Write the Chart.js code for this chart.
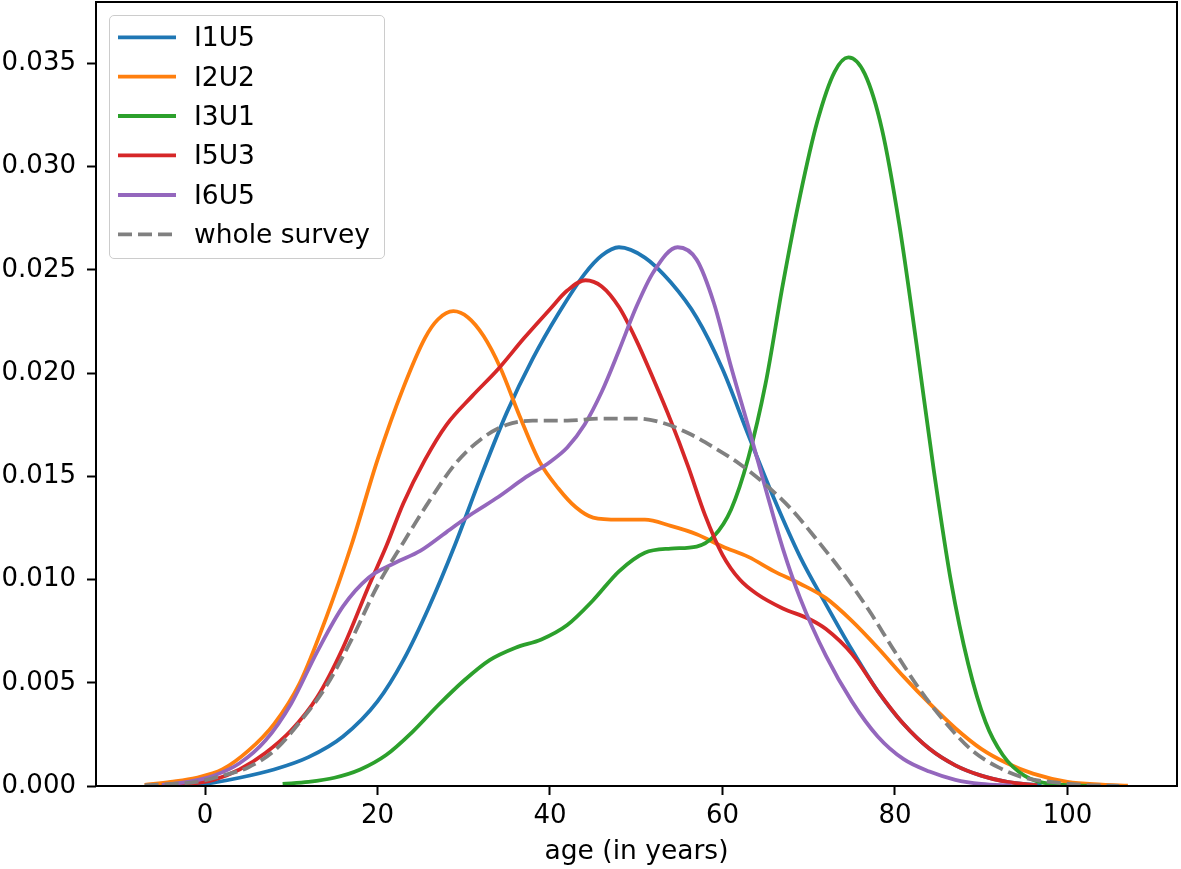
<!DOCTYPE html>
<html>
<head>
<meta charset="utf-8">
<script src="https://cdn.jsdelivr.net/npm/chart.js@4.4.0/dist/chart.umd.min.js"></script>
<style>
  html, body { margin: 0; padding: 0; background: #fff; }
  #wrap { position: relative; width: 1181px; height: 869px; }
  #legend { position: absolute; left: 0; top: 0; width: 1181px; height: 869px; pointer-events: none; font-family: "DejaVu Sans", sans-serif; }
  #legendFrame { position: absolute; left: 109px; top: 15px; width: 276px; height: 244px; box-sizing: border-box;
    border: 1px solid #cccccc; border-radius: 5px; background: rgba(255,255,255,0.8); }
  .lg-text { position: absolute; left: 194px; font-size: 26.5px; line-height: 30px; color: #000; white-space: nowrap; }
</style>
</head>
<body>
<div id="wrap">
  <canvas id="chart" width="1181" height="869"></canvas>
  <div id="legend"><div id="legendFrame"></div></div>
</div>
<script>
// ---- data ----
const seriesNames = ["I1U5", "I2U2", "I3U1", "I5U3", "I6U5", "whole survey"];

const agesI1U5 = [-2, 0, 4, 8, 12, 16, 20, 23, 26, 29, 32, 35, 38, 41, 44, 46, 48, 51, 54, 57, 60, 63, 66, 69, 72, 75, 78, 81, 84, 87, 90, 93, 97];
const densI1U5 = [0.00003, 0.0001, 0.0004, 0.0008, 0.0014, 0.0024, 0.0041, 0.0061, 0.0087, 0.0117, 0.0150, 0.0181, 0.0207, 0.0229, 0.0248, 0.0257, 0.0261, 0.0256, 0.0244, 0.0227, 0.0202, 0.0170, 0.0139, 0.0111, 0.0088, 0.0066, 0.0046, 0.0030, 0.0018, 0.0010, 0.0005, 0.0002, 0.00003];

const agesI2U2 = [-7, -4, -1, 2, 5, 8, 11, 14, 17, 20, 23, 25.5, 27, 28.8, 30.5, 32.3, 34.2, 36.5, 38.8, 41, 43, 45, 48, 51, 54, 57, 60, 63, 66, 69, 72, 75, 78, 81, 84, 87, 90, 93, 96, 100, 104, 107];
const densI2U2 = [0.00005, 0.0002, 0.0004, 0.0008, 0.0017, 0.0030, 0.0050, 0.0081, 0.0117, 0.0158, 0.0193, 0.0217, 0.0226, 0.0230, 0.0227, 0.0218, 0.0203, 0.0179, 0.0157, 0.0144, 0.0135, 0.0130, 0.0129, 0.0129, 0.0126, 0.0122, 0.0116, 0.0111, 0.0104, 0.0098, 0.0091, 0.0080, 0.0067, 0.0053, 0.0040, 0.0028, 0.0018, 0.0011, 0.0006, 0.0002, 0.00007, 0.00002];

const agesI3U1 = [9, 12, 15, 18, 21, 24, 27, 30, 33, 36, 39, 42, 45, 48, 51, 54, 57, 59, 61, 63, 65, 67, 69, 71, 73, 74.6, 76.5, 78.5, 80.5, 82.5, 84.5, 86.5, 88.5, 90.5, 92.5, 95, 98, 103];
const densI3U1 = [0.0001, 0.0002, 0.0004, 0.0008, 0.0015, 0.0026, 0.0039, 0.0051, 0.0061, 0.0067, 0.0071, 0.0078, 0.0090, 0.0104, 0.0113, 0.0115, 0.0116, 0.0121, 0.0134, 0.0159, 0.0195, 0.0243, 0.0286, 0.0322, 0.0346, 0.0353, 0.0345, 0.0318, 0.0272, 0.0214, 0.0153, 0.0099, 0.0059, 0.0031, 0.0015, 0.0005, 0.0001, 0.00001];

const agesI5U3 = [-5, -2, 1, 4, 7, 10, 13, 16, 19, 21, 23, 25.5, 28, 31, 34, 37, 40, 42, 44.1, 46, 48, 50, 52, 54, 56, 58, 60, 62, 64, 67, 70, 72, 75, 78, 81, 84, 87, 90, 93, 96.5];
const densI5U3 = [0.00005, 0.0001, 0.0003, 0.0008, 0.0016, 0.0027, 0.0043, 0.0067, 0.0097, 0.0116, 0.0137, 0.0158, 0.0175, 0.0189, 0.0202, 0.0217, 0.0231, 0.0240, 0.0245, 0.0242, 0.0232, 0.0216, 0.0197, 0.0177, 0.0155, 0.0131, 0.0112, 0.0100, 0.0093, 0.0086, 0.0081, 0.0076, 0.0064, 0.0046, 0.0030, 0.0018, 0.0010, 0.0005, 0.0002, 0.00003];

const agesI6U5 = [-5, -2, 1, 4, 7, 10, 13, 16, 19, 22, 25, 28, 31, 34, 37, 40, 42, 44, 46, 48, 50, 52, 54.8, 57, 59, 61, 63, 65, 67, 69, 72, 75, 78, 81, 84, 87, 90, 93.5];
const densI6U5 = [0.00005, 0.0002, 0.0005, 0.0011, 0.0022, 0.0040, 0.0065, 0.0087, 0.0101, 0.0108, 0.0114, 0.0123, 0.0132, 0.0140, 0.0149, 0.0157, 0.0164, 0.0175, 0.0191, 0.0211, 0.0232, 0.0249, 0.0261, 0.0255, 0.0234, 0.0203, 0.0174, 0.0144, 0.0115, 0.0091, 0.0063, 0.0041, 0.0024, 0.0013, 0.0007, 0.0003, 0.0001, 0.00002];

const agesWhole = [-7, -4, -1, 2, 5, 8, 11, 14, 17, 20, 23, 26, 29, 32, 35, 38, 42, 46, 50, 53, 56, 59, 62, 65, 68, 71, 74, 77, 80, 83, 86, 89, 92, 95, 98, 102, 106];
const densWhole = [0.00003, 0.0001, 0.0002, 0.0005, 0.0009, 0.0017, 0.0031, 0.0048, 0.0071, 0.0097, 0.0118, 0.0138, 0.0156, 0.0168, 0.0175, 0.0177, 0.0177, 0.0178, 0.0178, 0.0176, 0.0171, 0.0164, 0.0156, 0.0146, 0.0134, 0.0119, 0.0103, 0.0085, 0.0065, 0.0046, 0.0030, 0.0017, 0.0009, 0.0004, 0.0002, 0.00005, 0.00001];

const xTickStep = 20;
const yTickStep = 0.005;
const xLabel = "age (in years)";

// ---- styling ----
const colors = ["#1f77b4", "#ff7f0e", "#2ca02c", "#d62728", "#9467bd", "#808080"];
const dashes = [[], [], [], [], [], [14, 6]];
const LW = 3.8;
const FONT = "'DejaVu Sans', sans-serif";

const agesList = [agesI1U5, agesI2U2, agesI3U1, agesI5U3, agesI6U5, agesWhole];
const densList = [densI1U5, densI2U2, densI3U1, densI5U3, densI6U5, densWhole];

const datasets = seriesNames.map((name, i) => ({
  label: name,
  data: agesList[i].map((a, k) => ({ x: a, y: densList[i][k] })),
  borderColor: colors[i],
  backgroundColor: colors[i],
  borderWidth: LW,
  borderDash: dashes[i],
  pointRadius: 0,
  pointHoverRadius: 0,
  fill: false,
  cubicInterpolationMode: 'monotone',
  borderCapStyle: 'butt',
  order: seriesNames.length - i
}));

const framePlugin = {
  id: 'frame',
  afterDatasetsDraw(chart) {
    const a = chart.chartArea;
    const ctx = chart.ctx;
    ctx.save();
    ctx.strokeStyle = '#000';
    ctx.lineWidth = 2;
    ctx.setLineDash([]);
    ctx.strokeRect(a.left, a.top, a.right - a.left, a.bottom - a.top);
    ctx.restore();
  }
};

new Chart(document.getElementById('chart'), {
  type: 'line',
  data: { datasets },
  plugins: [framePlugin],
  options: {
    responsive: false,
    animation: false,
    devicePixelRatio: 1,
    layout: { padding: { top: 2, right: 4, left: 0, bottom: 0 } },
    plugins: { legend: { display: false }, tooltip: { enabled: false } },
    scales: {
      x: {
        type: 'linear',
        min: -12.64,
        max: 112.7,
        border: { display: false },
        grid: { drawOnChartArea: false, drawTicks: true, tickLength: 9, tickWidth: 2, tickColor: '#000' },
        ticks: {
          stepSize: xTickStep, includeBounds: false, color: '#000', padding: 6,
          font: { family: FONT, size: 26 }, maxRotation: 0,
          callback: v => String(Math.round(v))
        },
        title: { display: true, text: xLabel, color: '#000', font: { family: FONT, size: 26.5 }, padding: { top: 0, bottom: 1 } },
        afterFit: s => { s.height = 83; s.paddingLeft = 0; s.paddingRight = 0; }
      },
      y: {
        type: 'linear',
        min: 0,
        max: 0.03798,
        border: { display: false },
        grid: { drawOnChartArea: false, drawTicks: true, tickLength: 9, tickWidth: 2, tickColor: '#000' },
        ticks: {
          stepSize: yTickStep, includeBounds: false, color: '#000', padding: 11,
          font: { family: FONT, size: 26 },
          callback: v => v.toFixed(3)
        },
        afterFit: s => { s.width = 96; s.paddingTop = 0; s.paddingBottom = 0; }
      }
    }
  }
});

// ---- legend (HTML overlay) ----
const legend = document.getElementById('legend');
const baselines = [46.7, 86.1, 125.5, 164.9, 204.3, 243.7];
const lineYs = [37.3, 76.7, 116, 155.3, 195, 234.3];
const svgNS = 'http://www.w3.org/2000/svg';
const svg = document.createElementNS(svgNS, 'svg');
svg.setAttribute('width', '1181'); svg.setAttribute('height', '300');
svg.style.position = 'absolute'; svg.style.left = '0'; svg.style.top = '0';
seriesNames.forEach((name, i) => {
  const ln = document.createElementNS(svgNS, 'line');
  ln.setAttribute('x1', 118); ln.setAttribute('x2', 176);
  ln.setAttribute('y1', lineYs[i]); ln.setAttribute('y2', lineYs[i]);
  ln.setAttribute('stroke', colors[i]); ln.setAttribute('stroke-width', LW);
  if (dashes[i].length) ln.setAttribute('stroke-dasharray', dashes[i].join(' '));
  svg.appendChild(ln);
  const t = document.createElement('div');
  t.className = 'lg-text';
  t.textContent = name;
  t.style.top = (baselines[i] - 24.6) + 'px';
  legend.appendChild(t);
});
legend.appendChild(svg);
</script>
</body>
</html>
